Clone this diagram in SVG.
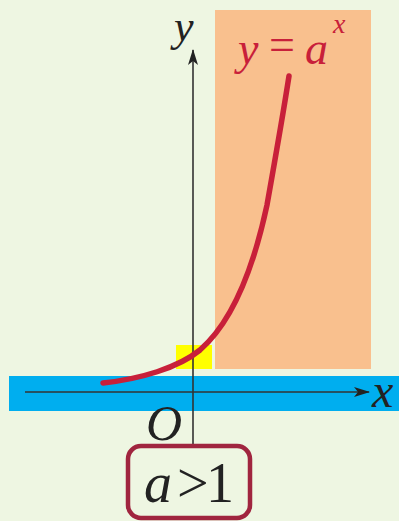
<svg xmlns="http://www.w3.org/2000/svg" width="399" height="521" viewBox="0 0 399 521">
<defs>
<style>
.it{font-family:"Liberation Serif","Times New Roman",serif;font-style:italic}
.rm{font-family:"Liberation Serif","Times New Roman",serif}
.ax{stroke:#333;stroke-width:1.6;fill:none}
</style>
<marker id="arr" viewBox="0 0 16 10" refX="15" refY="5" markerWidth="16" markerHeight="10" markerUnits="userSpaceOnUse" orient="auto">
<path d="M0,0 L16,5 L0,10 L4,5 Z" fill="#222"/>
</marker>
</defs>
<rect x="0" y="0" width="399" height="521" fill="#EEF6E2"/>
<g id="regions">
<rect x="215" y="10" width="156" height="359" fill="#F9C08E"/>
<rect x="176" y="345" width="36" height="24" fill="#FFFF00"/>
<rect x="9" y="376" width="390" height="35" fill="#00AEEF"/>
</g>
<g id="connectors">
<line x1="25" y1="392" x2="369" y2="392" class="ax" stroke="#1d3440" stroke-width="2.4" marker-end="url(#arr)"/>
<line x1="193" y1="445" x2="193" y2="50" class="ax" marker-end="url(#arr)"/>
</g>
<g id="curve">
<path d="M103,383 C140,379 178,368 200,350 C230,324 252,275 267,205 C275,160 283,115 289,76" fill="none" stroke="#C8203A" stroke-width="5.5" stroke-linecap="round"/>
</g>
<g id="labels">
<text x="174" y="41" class="it" font-size="44" fill="#222">y</text>
<text x="372" y="407" class="it" font-size="48" fill="#222">x</text>
<text x="146" y="440" class="it" font-size="50" fill="#222">O</text>
<text x="238" y="64" class="it" font-size="46" fill="#C8203A">y</text>
<text x="269" y="60" class="rm" font-size="46" fill="#C8203A">=</text>
<text x="305" y="64" class="it" font-size="46" fill="#C8203A">a</text>
<text x="333" y="33" class="it" font-size="28" fill="#C8203A">x</text>
</g>
<g id="condition">
<rect x="128" y="446" width="122" height="72" rx="13" fill="none" stroke="#A0253F" stroke-width="4.5"/>
<text x="144" y="502" class="it" font-size="56" fill="#222">a</text>
<text x="177" y="502" class="rm" font-size="56" fill="#222">&gt;</text>
<text x="206" y="502" class="rm" font-size="56" fill="#222">1</text>
</g>
</svg>
